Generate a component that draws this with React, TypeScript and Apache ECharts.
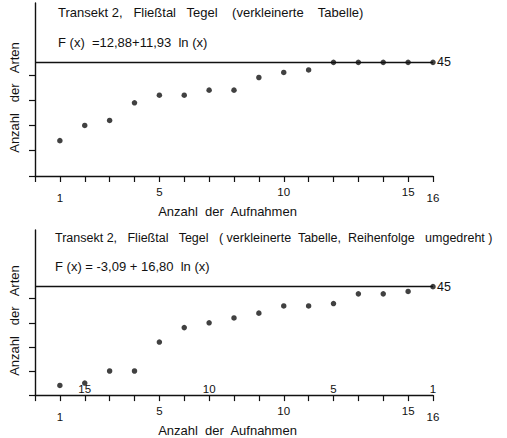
import React, { useEffect, useRef } from "react";
import * as echarts from "echarts";

// ---- data ----
const xLabelValues = [1, 5, 10, 15, 16];
const yTickValues = [0, 10, 20, 30, 40];
const topValues = [14, 20, 22, 29, 32, 32, 34, 34, 39, 41, 42, 45, 45, 45, 45, 45];
const bottomValues = [4, 5, 10, 10, 22, 28, 30, 32, 34, 37, 37, 38, 42, 42, 43, 45];
const reverseLabelValues = [1, 5, 10, 15];
const totalSpecies = 45;
const S = "\u00a0";
const topTitle = `Transekt 2,${S}${S} Fließtal${S}${S} Tegel${S}${S}${S} (verkleinerte${S}${S}${S} Tabelle)`;
const topFormula = `F (x)${S} =12,88+11,93${S} ln (x)`;
const bottomTitle = `Transekt 2,${S}${S} Fließtal${S}${S} Tegel${S}${S} ( verkleinerte${S} Tabelle,${S} Reihenfolge${S}${S} umgedreht )`;
const bottomFormula = `F (x) = -3,09 + 16,80${S} ln (x)`;
const xName = `Anzahl${S} der${S} Aufnahmen`;
const yName = `Anzahl${S}${S} der${S}${S} Arten`;

const FONT = "Liberation Sans";
const BLACK = "#111";

export default function App() {
  const ref = useRef<HTMLDivElement>(null);
  useEffect(() => {
    document.body.style.margin = "0";
    const chart = echarts.init(ref.current!, undefined, { renderer: "svg" });
    const pts = (vals: number[]) => vals.map((v, i) => [i + 1, v]);

    const xAxisBase = (gridIndex: number) => ({
      type: "value",
      gridIndex,
      min: 0,
      max: 16,
      interval: 1,
      position: "bottom",
      splitLine: { show: false },
      axisLine: { show: true, lineStyle: { color: BLACK, width: 1.4 } },
      axisTick: { show: true, length: 6, lineStyle: { color: BLACK, width: 1.2 } },
      axisLabel: {
        customValues: xLabelValues,
        margin: 10,
        color: BLACK,
        fontFamily: FONT,
        fontSize: 11.5,
        formatter: (v: number) => (v === 1 || v === 16 ? `{lo|${v}}` : `{hi|${v}}`),
        rich: {
          lo: { padding: [6, 0, 0, 0], fontSize: 11.5, fontFamily: FONT, color: BLACK },
          hi: { fontSize: 11.5, fontFamily: FONT, color: BLACK },
        },
      },
      name: xName,
      nameLocation: "middle",
      nameGap: 21,
      nameTextStyle: { color: BLACK, fontFamily: FONT, fontSize: 13, padding: [0, 13, 0, 0] },
    });

    const yAxisBase = (gridIndex: number) => ({
      type: "value",
      gridIndex,
      min: 0,
      max: 68.5,
      splitLine: { show: false },
      axisLine: { show: true, onZero: false, lineStyle: { color: BLACK, width: 1.4 } },
      axisTick: {
        show: true,
        length: 6,
        customValues: yTickValues,
        lineStyle: { color: BLACK, width: 1.2 },
      },
      axisLabel: { show: false },
      name: yName,
      nameLocation: "middle",
      nameGap: 14,
      nameRotate: 90,
      nameTextStyle: { color: BLACK, fontFamily: FONT, fontSize: 13, padding: [0, 16, 0, 0] },
    });

    const markLine45 = {
      symbol: "none",
      silent: true,
      lineStyle: { color: BLACK, width: 1.4, type: "solid" },
      label: { position: "end", formatter: String(totalSpecies), color: BLACK, fontFamily: FONT, fontSize: 12.5, distance: 4 },
      data: [{ yAxis: totalSpecies }],
    };

    const titleFont = `13px "${FONT}"`;
    const bottomTitleFont = `12.5px "${FONT}"`;

    chart.setOption({
      animation: false,
      backgroundColor: "#fff",
      grid: [
        { left: 33, width: 400, top: 3, height: 173 },
        { left: 33, width: 400, top: 230, height: 173 },
      ],
      xAxis: [
        xAxisBase(0),
        xAxisBase(1),
        {
          type: "value",
          gridIndex: 1,
          min: 1,
          max: 17,
          inverse: true,
          position: "bottom",
          splitLine: { show: false },
          axisLine: { show: false },
          axisTick: { show: false },
          axisLabel: {
            inside: true,
            customValues: reverseLabelValues,
            margin: 0,
            color: BLACK,
            fontFamily: FONT,
            fontSize: 11.5,
          },
        },
      ],
      yAxis: [yAxisBase(0), yAxisBase(1)],
      graphic: [
        { type: "text", left: 58, top: 6, style: { text: topTitle, fill: BLACK, font: titleFont } },
        { type: "text", left: 58, top: 36, style: { text: topFormula, fill: BLACK, font: titleFont } },
        { type: "text", left: 55, top: 231, style: { text: bottomTitle, fill: BLACK, font: bottomTitleFont } },
        { type: "text", left: 55, top: 260, style: { text: bottomFormula, fill: BLACK, font: titleFont } },
      ],
      series: [
        {
          type: "scatter",
          xAxisIndex: 0,
          yAxisIndex: 0,
          symbolSize: 5.5,
          itemStyle: { color: BLACK },
          data: pts(topValues),
          markLine: markLine45,
        },
        {
          type: "scatter",
          xAxisIndex: 1,
          yAxisIndex: 1,
          symbolSize: 5.5,
          itemStyle: { color: BLACK },
          data: pts(bottomValues),
          markLine: markLine45,
        },
      ],
    });
    return () => chart.dispose();
  }, []);
  return <div ref={ref} style={{ width: 507, height: 438 }} />;
}
